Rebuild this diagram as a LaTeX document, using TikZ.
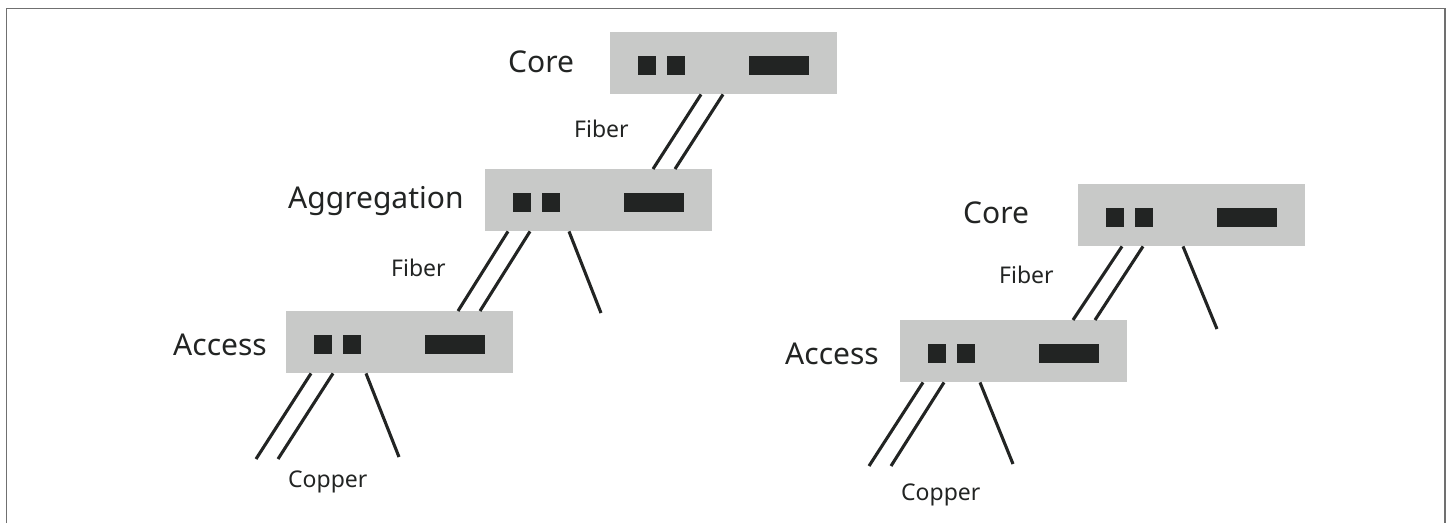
\documentclass[tikz,border=0pt]{standalone}
\usepackage{fontspec}
\setmainfont{Noto Sans}
\usetikzlibrary{calc}
\definecolor{boxgray}{HTML}{C8C9C8}
\definecolor{ink}{HTML}{222423}
\definecolor{framegray}{HTML}{707070}
\tikzset{
  switchbox/.style={rectangle, fill=boxgray, minimum width=227pt, minimum height=62pt, inner sep=0pt, anchor=north west},
  tierlabel/.style={anchor=base west, inner sep=0pt, text=ink, font=\fontsize{30}{30}\selectfont},
  medialabel/.style={anchor=base west, inner sep=0pt, text=ink, font=\fontsize{23}{23}\selectfont},
  wire/.style={draw=ink, line width=3.1pt},
  frameline/.style={draw=framegray, line width=1.6pt}
}
\newcommand\portsof[1]{%
  \fill[ink] ($(#1.north west)+(28,24)$) rectangle ++(18,19);
  \fill[ink] ($(#1.north west)+(57,24)$) rectangle ++(18,19);
  \fill[ink] ($(#1.north west)+(139,24)$) rectangle ++(60,19);
}
\begin{document}
\begin{tikzpicture}[x=1pt,y=-1pt]
\useasboundingbox (0,0) rectangle (1451,523);
\draw[frameline] (6.5,523) -- (6.5,8.3) -- (1445,8.3) -- (1445,523);

% boxes
\node[switchbox] (core1) at (610,32) {};
\node[switchbox] (agg) at (485,169) {};
\node[switchbox] (acc1) at (286,311) {};
\node[switchbox] (core2) at (1078,184) {};
\node[switchbox] (acc2) at (900,320) {};
\portsof{core1}
\portsof{agg}
\portsof{acc1}
\portsof{core2}
\portsof{acc2}

% labels
\node[tierlabel] (lcore1) at (508,72) {Core};
\node[medialabel] (lfib1) at (574,137) {Fiber};
\node[tierlabel] (lagg) at (288,208) {Aggregation};
\node[medialabel] (lfib2) at (391,276) {Fiber};
\node[tierlabel] (lacc1) at (173,355) {Access};
\node[medialabel] (lcop1) at (288,487) {Copper};
\node[tierlabel] (lcore2) at (963,223) {Core};
\node[medialabel] (lfib3) at (999,283) {Fiber};
\node[tierlabel] (lacc2) at (785,364) {Access};
\node[medialabel] (lcop2) at (901,500) {Copper};

% free ends
\coordinate (aggdrop) at (601,313);
\coordinate (acc1a) at (256,459);
\coordinate (acc1b) at (278,459);
\coordinate (acc1c) at (399,457);
\coordinate (core2drop) at (1217,329);
\coordinate (acc2a) at (869,466);
\coordinate (acc2b) at (891,466);
\coordinate (acc2c) at (1013,464);

% core1 - agg
\draw[wire] ($(core1.south west)+(91,0)$) -- ($(agg.north west)+(168,0)$);
\draw[wire] ($(core1.south west)+(113,0)$) -- ($(agg.north west)+(190,0)$);
% agg - acc1
\draw[wire] ($(agg.south west)+(23,0)$) -- ($(acc1.north west)+(172,0)$);
\draw[wire] ($(agg.south west)+(45,0)$) -- ($(acc1.north west)+(194,0)$);
\draw[wire] ($(agg.south west)+(84,0)$) -- (aggdrop);
% acc1 drops
\draw[wire] ($(acc1.south west)+(25,0)$) -- (acc1a);
\draw[wire] ($(acc1.south west)+(47,0)$) -- (acc1b);
\draw[wire] ($(acc1.south west)+(80,0)$) -- (acc1c);
% core2 - acc2
\draw[wire] ($(core2.south west)+(44,0)$) -- ($(acc2.north west)+(173,0)$);
\draw[wire] ($(core2.south west)+(65,0)$) -- ($(acc2.north west)+(195,0)$);
\draw[wire] ($(core2.south west)+(105,0)$) -- (core2drop);
% acc2 drops
\draw[wire] ($(acc2.south west)+(23,0)$) -- (acc2a);
\draw[wire] ($(acc2.south west)+(44,0)$) -- (acc2b);
\draw[wire] ($(acc2.south west)+(80,0)$) -- (acc2c);
\end{tikzpicture}
\end{document}
